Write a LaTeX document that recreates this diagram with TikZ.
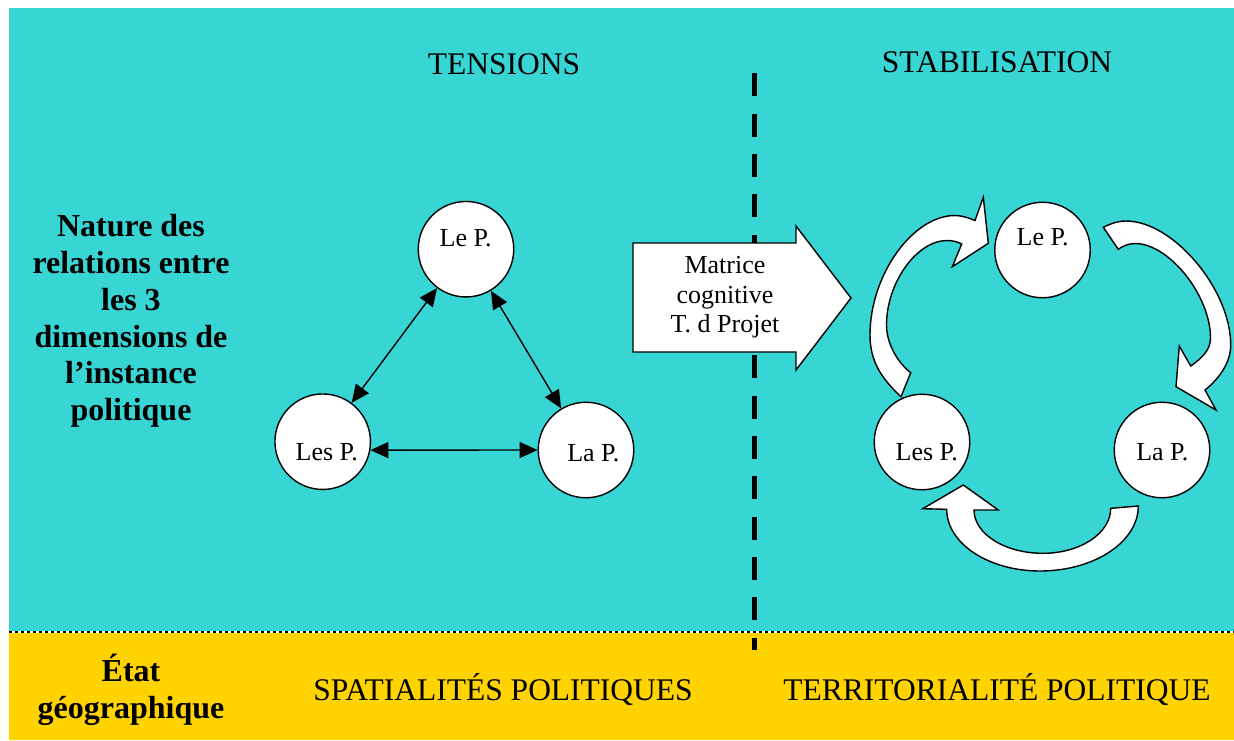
\documentclass[tikz,border=0pt]{standalone}
\usepackage{fontspec}
\setmainfont{Liberation Serif}
\usetikzlibrary{arrows.meta}
\definecolor{teal1}{RGB}{56,213,213}
\definecolor{yel1}{RGB}{255,211,0}
\tikzset{
  bubble/.style={circle, draw=black, fill=white, line width=1.4pt, minimum size=95.5pt, inner sep=0pt},
  lbl/.style={inner sep=0pt, font=\fontsize{26}{30}\selectfont},
  title/.style={inner sep=0pt, font=\fontsize{31.5}{36}\selectfont},
  boldtxt/.style={inner sep=0pt, align=center, font=\bfseries\fontsize{32}{36.8}\selectfont},
  link/.style={line width=1.4pt, {Triangle[length=18pt,width=16pt]}-{Triangle[length=18pt,width=16pt]}},
  blockarrow/.style={draw=black, fill=white, line width=1.4pt, line join=miter},
}
\begin{document}
\begin{tikzpicture}[x=1pt,y=-1pt]
\useasboundingbox (0,0) rectangle (1234,740);
% backgrounds
\fill[teal1] (9,8) rectangle (1234,632);
\fill[yel1] (9,632) rectangle (1234,740);
\draw[white, line width=2pt] (9,632) -- (1234,632);
\draw[black, line width=2pt, dash pattern=on 3pt off 3pt] (9,632) -- (1234,632);
% vertical dashed separator
\draw[black, line width=5.5pt, dash pattern=on 23pt off 17.3pt] (754.5,73.3) -- (754.5,649.5);

% titles
\node[title] (tens) at (504,64) {TENSIONS};
\node[title] (stab) at (997,62) {STABILISATION};
\node[boldtxt] (nature) at (131,321) {Nature des\\relations entre\\les 3\\dimensions de\\l’instance\\politique};
\node[boldtxt] (etat) at (131,690) {État\\géographique};
\node[title] (spat) at (503,690) {SPATIALITÉS POLITIQUES};
\node[title] (terr) at (997,690) {TERRITORIALITÉ POLITIQUE};

% left triangle
\node[bubble] (leL) at (466,249.2) {};
\node[bubble] (lesL) at (322.7,441.7) {};
\node[bubble] (laL) at (586,450) {};
\node[lbl] (leLt) at (465.7,237.7) {Le P.};
\node[lbl] (lesLt) at (326.7,452.3) {Les P.};
\node[lbl] (laLt) at (593.3,453.3) {La P.};
\draw[link] (leL) -- (lesL);
\draw[link] (leL) -- (laL);
\draw[link] (lesL.-10) -- (laL.west);

% big block arrow
\draw[blockarrow] (633,243) -- (796,243) -- (796,226) -- (851,298) -- (796,370) -- (796,352) -- (633,352) -- cycle;
\node[lbl, align=center, font=\fontsize{26}{29.5}\selectfont] (mat) at (725,297.5) {Matrice\\cognitive\\T. d Projet};

% curved arrows
\draw[blockarrow] (901,396.7) .. controls (881.6,378.6) and (870,361.5) .. (870,335)
  .. controls (870,275.25) and (912.5,215.5) .. (955,215.5)
  .. controls (962,215.5) and (969,218) .. (975,220.5)
  -- (983.3,197.3) -- (988.3,243.3) -- (952.3,266.7) -- (961.7,244)
  .. controls (957,241.5) and (952,240.5) .. (947,240.5)
  .. controls (916.75,240.5) and (886.5,282.75) .. (886.5,325)
  .. controls (886.5,343) and (897,362) .. (910.7,372.7) -- cycle;
\draw[blockarrow] (1103.3,227.3) .. controls (1110,224) and (1117,221) .. (1126,221)
  .. controls (1173.1,221) and (1230.7,289.2) .. (1230.7,345)
  .. controls (1230.7,362) and (1220,378) .. (1205,390)
  -- (1216,410) -- (1176,386.7) -- (1179.3,346) -- (1190.7,366)
  .. controls (1202,358) and (1210.5,350) .. (1210.5,338)
  .. controls (1210.5,295.5) and (1169,243.5) .. (1135,243.5)
  .. controls (1128,243.5) and (1122,246.5) .. (1118.3,249.3) -- cycle;
\draw[blockarrow] (1138.3,506) .. controls (1138.3,541.9) and (1094.3,571) .. (1040,571)
  .. controls (988.5,571) and (946.7,543.4) .. (946.7,509.3)
  -- (922.7,508.7) -- (963.3,485) -- (998.3,510) -- (974,510)
  .. controls (974,533.9) and (1004.9,553.3) .. (1043,553.3)
  .. controls (1080.4,553.3) and (1110.7,533.1) .. (1110.7,508.3) -- cycle;

% right circles
\node[bubble] (leR) at (1042.5,250) {};
\node[bubble] (lesR) at (922,442) {};
\node[bubble] (laR) at (1162,450) {};
\node[lbl] (leRt) at (1042.7,236.7) {Le P.};
\node[lbl] (lesRt) at (926.7,451.7) {Les P.};
\node[lbl] (laRt) at (1162.3,451.7) {La P.};
\end{tikzpicture}
\end{document}
